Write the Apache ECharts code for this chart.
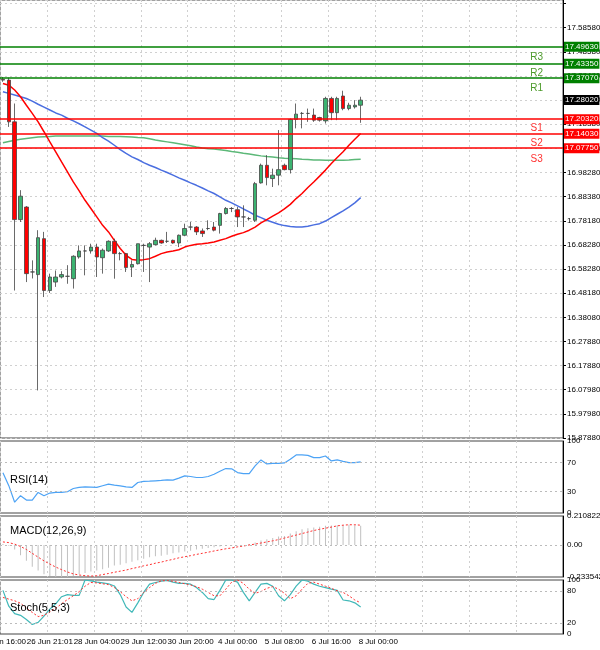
<!DOCTYPE html>
<html>
<head>
<meta charset="utf-8">
<script src="https://cdn.jsdelivr.net/npm/echarts@6/dist/echarts.min.js"></script>
<style>html,body{margin:0;padding:0;background:#fff}#main{width:600px;height:650px}</style>
</head>
<body>
<div id="main"></div>
<script>
// candles (4h), oldest first
var opens  = [17.365,17.362,17.189,16.784,16.836,16.567,16.556,16.705,16.49,16.525,16.546,16.549,16.539,16.629,16.654,16.654,16.67,16.626,16.654,16.694,16.643,16.643,16.587,16.601,16.677,16.67,16.68,16.698,16.694,16.698,16.687,16.719,16.753,16.753,16.737,16.747,16.753,16.76,16.809,16.83,16.825,16.795,16.788,16.781,16.936,17.009,16.954,16.968,17.009,16.991,17.199,17.224,17.224,17.217,17.207,17.193,17.286,17.227,17.296,17.244,17.251,17.258];
var closes = [17.362,17.189,16.784,16.881,16.56,16.567,16.709,16.49,16.546,16.546,16.556,16.549,16.632,16.654,16.654,16.67,16.629,16.657,16.694,16.643,16.643,16.585,16.598,16.684,16.677,16.684,16.698,16.687,16.694,16.687,16.719,16.747,16.753,16.733,16.726,16.747,16.74,16.809,16.83,16.83,16.795,16.795,16.788,16.933,17.009,16.958,16.968,16.991,16.991,17.199,17.221,17.224,17.224,17.196,17.196,17.286,17.227,17.286,17.244,17.258,17.258,17.279];
var lows   = [17.355,17.168,16.49,16.774,16.525,16.54,16.076,16.463,16.48,16.505,16.54,16.518,16.498,16.622,16.553,16.643,16.546,16.56,16.65,16.539,16.615,16.567,16.546,16.598,16.567,16.525,16.677,16.684,16.687,16.684,16.67,16.715,16.74,16.72,16.712,16.74,16.735,16.726,16.805,16.815,16.753,16.753,16.78,16.774,16.933,16.926,16.919,16.926,16.988,16.975,17.162,17.162,17.189,17.189,17.19,17.182,17.196,17.196,17.237,17.237,17.244,17.185];
var highs  = [17.375,17.372,17.265,16.906,16.84,16.615,16.74,16.733,16.56,16.573,16.57,16.595,16.636,16.677,16.677,16.684,16.684,16.664,16.698,16.705,16.65,16.646,16.615,16.684,16.684,16.691,16.709,16.701,16.733,16.701,16.722,16.767,16.774,16.757,16.747,16.781,16.774,16.812,16.836,16.836,16.836,16.843,16.795,16.94,17.016,17.051,16.995,17.155,17.016,17.203,17.265,17.23,17.244,17.244,17.21,17.293,17.293,17.293,17.318,17.268,17.279,17.293];

var maRed   = [17.348,17.341,17.321,17.293,17.258,17.224,17.189,17.148,17.106,17.065,17.023,16.982,16.940,16.903,16.864,16.830,16.795,16.760,16.733,16.698,16.664,16.636,16.619,16.615,16.618,16.622,16.632,16.643,16.650,16.654,16.659,16.670,16.677,16.682,16.684,16.687,16.691,16.698,16.705,16.715,16.723,16.730,16.740,16.753,16.770,16.784,16.798,16.812,16.828,16.847,16.871,16.892,16.917,16.940,16.964,16.989,17.016,17.041,17.065,17.092,17.117,17.141];
var maBlue  = [17.314,17.307,17.300,17.293,17.286,17.275,17.262,17.250,17.238,17.226,17.217,17.204,17.193,17.181,17.168,17.155,17.141,17.124,17.109,17.092,17.074,17.058,17.044,17.033,17.020,17.009,17.000,16.989,16.979,16.968,16.957,16.947,16.936,16.926,16.915,16.903,16.892,16.878,16.864,16.853,16.841,16.828,16.816,16.802,16.792,16.781,16.773,16.765,16.759,16.755,16.753,16.753,16.756,16.762,16.767,16.778,16.792,16.806,16.820,16.836,16.853,16.875];
var maGreen = [17.102,17.108,17.113,17.117,17.120,17.123,17.126,17.127,17.128,17.130,17.130,17.130,17.130,17.130,17.130,17.130,17.130,17.130,17.128,17.128,17.128,17.127,17.126,17.124,17.123,17.119,17.114,17.110,17.106,17.102,17.098,17.094,17.090,17.085,17.081,17.078,17.076,17.073,17.070,17.066,17.063,17.059,17.056,17.052,17.048,17.045,17.043,17.040,17.038,17.037,17.036,17.034,17.033,17.031,17.031,17.030,17.030,17.030,17.030,17.031,17.033,17.034];

var rsi = [56,38,15,24,18,18,28.6,24,27.7,28.6,28.6,29.5,34,35.5,36.4,36,35.5,37.8,40,38.7,37.8,36.4,35.5,42.4,43.8,44.2,44.7,45.2,46.1,45.6,48.4,51.6,50.7,49.3,49.3,50.7,53.9,58,61.7,61.3,56.2,54.8,54.8,65.4,73.7,68.2,69,69,69.5,74.6,80.6,80.6,80.1,76.9,76.9,79.2,72.3,73.7,71.8,70,70,71];
var macdHist = [0.006,-0.006,-0.033,-0.075,-0.116,-0.158,-0.186,-0.213,-0.227,-0.241,-0.241,-0.241,-0.227,-0.213,-0.205,-0.194,-0.186,-0.177,-0.166,-0.150,-0.144,-0.133,-0.122,-0.111,-0.100,-0.089,-0.083,-0.078,-0.072,-0.061,-0.055,-0.047,-0.042,-0.033,-0.028,-0.022,-0.017,-0.011,-0.008,-0.006,-0.003,0,0.006,0.017,0.033,0.042,0.05,0.061,0.066,0.083,0.1,0.114,0.122,0.127,0.133,0.139,0.141,0.144,0.144,0.147,0.144,0.139];
var macdSignal = [0.022,0.017,0.006,-0.011,-0.033,-0.061,-0.089,-0.116,-0.139,-0.161,-0.18,-0.197,-0.211,-0.219,-0.224,-0.227,-0.224,-0.216,-0.208,-0.199,-0.191,-0.183,-0.172,-0.163,-0.152,-0.144,-0.133,-0.125,-0.114,-0.105,-0.094,-0.086,-0.078,-0.069,-0.061,-0.053,-0.044,-0.036,-0.028,-0.022,-0.014,-0.008,0,0.006,0.014,0.022,0.03,0.039,0.05,0.061,0.072,0.083,0.094,0.105,0.114,0.122,0.13,0.139,0.144,0.147,0.147,0.144];
var stochMain = [80.8,51.5,37.7,34.6,26.9,17.7,21.5,33,46,56,69,73,71.5,71.5,100,98.5,96,94.6,93,89,73,50,40,57.7,77,92.3,95.4,97.7,99.2,96,93.8,93.8,92.3,86,77,65.4,63.8,80.8,100,100,96,77,61.5,77,92.3,93.8,88.5,70.8,61.5,73,88.5,100,97.7,92.3,88.5,86,83,80.8,63,61.5,57.7,50];
var stochSignal = [67.7,64.6,61.5,57,47.7,40,32.3,34.6,40.8,47.7,56,63.8,70.8,78.5,88.5,95.4,94.6,93,91.5,86,78.5,69,61.5,65.4,77,86,93.8,98.5,99,97.7,95.4,93,90.8,87.7,83,77,70.8,70.8,83,96,100,93.8,83,75.4,78.5,84.6,87.7,83,75.4,65.4,70.8,83,93.8,96,92.3,88.5,84.6,80,77,70.8,63,57.7];

var timeLabels = ['26 Jun 16:00','26 Jun 21:01','28 Jun 04:00','29 Jun 12:00','30 Jun 20:00','4 Jul 00:00','5 Jul 08:00','6 Jul 16:00','8 Jul 00:00'];
var priceTicks = ['15.87880','15.97980','16.07980','16.17880','16.27880','16.38080','16.48180','16.58280','16.68280','16.78180','16.88380','16.98280','17.08280','17.18380','17.28380','17.38480','17.48580','17.58580'];
var resistNames = ['R1','R2','R3'], resistValues = [17.3707,17.4335,17.4963];
var supportNames = ['S1','S2','S3'], supportValues = [17.2032,17.1403,17.0775];
var lastPrice = 17.2802;

var slots = 96;
var cats = [];
for (var i = 0; i < slots; i++) cats.push(i % 8 === 0 && i / 8 < timeLabels.length ? timeLabels[i / 8] : '');
var candles = opens.map(function (o, i) { return [o, closes[i], lows[i], highs[i]]; });

var dash = { type: [2, 3], color: '#d0d0d0', width: 1 };
var hidden = { color: 'rgba(0,0,0,0)', width: 0 };
var lvlLines = [], lvlNames = [];
function addLevel(name, v, col, txtCol) {
  lvlLines.push({ yAxis: v, lineStyle: { color: col, width: 1.5, type: 'solid' },
    label: { show: true, position: 'end', distance: 1, formatter: v.toFixed(5), color: '#fff', backgroundColor: col, fontSize: 8, padding: [1, 1] } });
  lvlNames.push({ coord: [91, v], symbol: 'circle', symbolSize: 0,
    label: { show: true, position: 'inside', offset: [0, 10], formatter: name, color: txtCol, fontSize: 10 } });
}
resistValues.forEach(function (v, i) { addLevel(resistNames[i], v, '#008000', '#4c9a2a'); });
supportValues.forEach(function (v, i) { addLevel(supportNames[i], v, '#ff0000', '#ff3030'); });
lvlLines.push({ yAxis: lastPrice, lineStyle: hidden,
  label: { show: true, position: 'end', distance: 1, formatter: lastPrice.toFixed(5), color: '#fff', backgroundColor: '#000', fontSize: 8, padding: [1, 1] } });

var grids = [
  { left: 0, right: 37, top: 0, height: 438 },
  { left: 0, right: 37, top: 441, height: 72 },
  { left: 0, right: 37, top: 516, height: 61 },
  { left: 0, right: 37, top: 580, height: 54 }
];
var xAxes = grids.map(function (g, k) {
  return { type: 'category', gridIndex: k, data: cats, boundaryGap: true,
    axisLine: { show: false }, axisTick: { show: false },
    axisLabel: { show: k === 3, interval: 0, fontSize: 8, color: '#000', margin: 4, hideOverlap: false },
    splitLine: { show: true, interval: function (i) { return i % 8 === 0; }, lineStyle: dash } };
});
function yBase(k, extra) {
  var o = { type: 'value', gridIndex: k, position: 'right', scale: true,
    axisLine: { show: true, lineStyle: { color: '#000' } }, axisTick: { show: true, length: 3, lineStyle: { color: '#000' } },
    axisLabel: { fontSize: 8, color: '#000', margin: 4 }, splitLine: { show: false } };
  for (var key in extra) o[key] = extra[key];
  return o;
}
var yAxes = [
  yBase(0, { min: 15.8788, max: 17.694, interval: 0.1,
    axisLabel: { fontSize: 8, color: '#000', margin: 4, showMaxLabel: false,
      formatter: function (v) { return priceTicks[Math.round((v - 15.8788) / 0.1)] || ''; } },
    splitLine: { show: true, lineStyle: dash } }),
  yBase(1, { min: 0, max: 100, interval: 10,
    axisTick: { show: false },
    axisLabel: { fontSize: 8, color: '#000', margin: 4, formatter: function (v) { return [0, 30, 70, 100].indexOf(v) >= 0 ? v : ''; } } }),
  yBase(2, { min: -0.233542, max: 0.210822, interval: 0.233542,
    axisTick: { show: false },
    axisLabel: { fontSize: 8, color: '#000', margin: 4, showMaxLabel: true,
      formatter: function (v) { return v > 0.2 ? '0.210822' : (Math.abs(v) < 0.01 ? '0.00' : '-0.233542'); } } }),
  yBase(3, { min: 0, max: 100, interval: 10,
    axisTick: { show: false },
    axisLabel: { fontSize: 8, color: '#000', margin: 4, formatter: function (v) { return [0, 20, 80, 100].indexOf(v) >= 0 ? v : ''; } } })
];
function hline(vals) {
  return { silent: true, symbol: 'none', label: { show: false },
    lineStyle: { type: [2, 3], color: '#bbb', width: 1 }, data: vals.map(function (v) { return { yAxis: v }; }) };
}

var option = {
  animation: false,
  backgroundColor: '#fff',
  textStyle: { fontFamily: 'Liberation Sans, Arial' },
  title: [
    { text: 'RSI(14)', left: 5, top: 469, textStyle: { fontSize: 11, fontWeight: 'normal', color: '#000' } },
    { text: 'MACD(12,26,9)', left: 5, top: 520, textStyle: { fontSize: 11, fontWeight: 'normal', color: '#000' } },
    { text: 'Stoch(5,5,3)', left: 5, top: 597, textStyle: { fontSize: 11, fontWeight: 'normal', color: '#000' } }
  ],
  grid: grids.map(function (g) {
    g.show = true; g.borderColor = '#444'; g.borderWidth = 1; g.backgroundColor = 'transparent';
    g.containLabel = false; g.outerBoundsMode = 'none'; return g;
  }),
  xAxis: xAxes,
  yAxis: yAxes,
  series: [
    { type: 'line', xAxisIndex: 0, yAxisIndex: 0, data: maGreen, symbol: 'none', lineStyle: { color: '#5cb878', width: 1.5 }, z: 2 },
    { type: 'line', xAxisIndex: 0, yAxisIndex: 0, data: maBlue, symbol: 'none', lineStyle: { color: '#4a6ee0', width: 1.5 }, z: 2 },
    { type: 'line', xAxisIndex: 0, yAxisIndex: 0, data: maRed, symbol: 'none', lineStyle: { color: '#ff0000', width: 1.5 }, z: 2 },
    { type: 'candlestick', xAxisIndex: 0, yAxisIndex: 0, data: candles, barWidth: 4, z: 3,
      itemStyle: { color: '#3cb371', color0: '#ff0000', borderColor: '#444', borderColor0: '#444', borderWidth: 0.8 },
      markLine: { silent: true, symbol: 'none', data: lvlLines, z: 4 },
      markPoint: { silent: true, data: lvlNames, z: 4 } },
    { type: 'line', xAxisIndex: 1, yAxisIndex: 1, data: rsi, symbol: 'none', lineStyle: { color: '#4da3f5', width: 1.2 },
      markLine: hline([30, 70]) },
    { type: 'bar', xAxisIndex: 2, yAxisIndex: 2, data: macdHist, barWidth: 1, itemStyle: { color: '#c0c0c0' } },
    { type: 'line', xAxisIndex: 2, yAxisIndex: 2, data: macdSignal, symbol: 'none', lineStyle: { color: '#ff3030', width: 1, type: [2, 2] },
      markLine: hline([0]) },
    { type: 'line', xAxisIndex: 3, yAxisIndex: 3, data: stochMain, symbol: 'none', lineStyle: { color: '#40b8b8', width: 1.2 },
      markLine: hline([20, 80]) },
    { type: 'line', xAxisIndex: 3, yAxisIndex: 3, data: stochSignal, symbol: 'none', lineStyle: { color: '#ff3030', width: 1, type: [2, 2] } }
  ]
};
echarts.init(document.getElementById('main')).setOption(option);
</script>
</body>
</html>
